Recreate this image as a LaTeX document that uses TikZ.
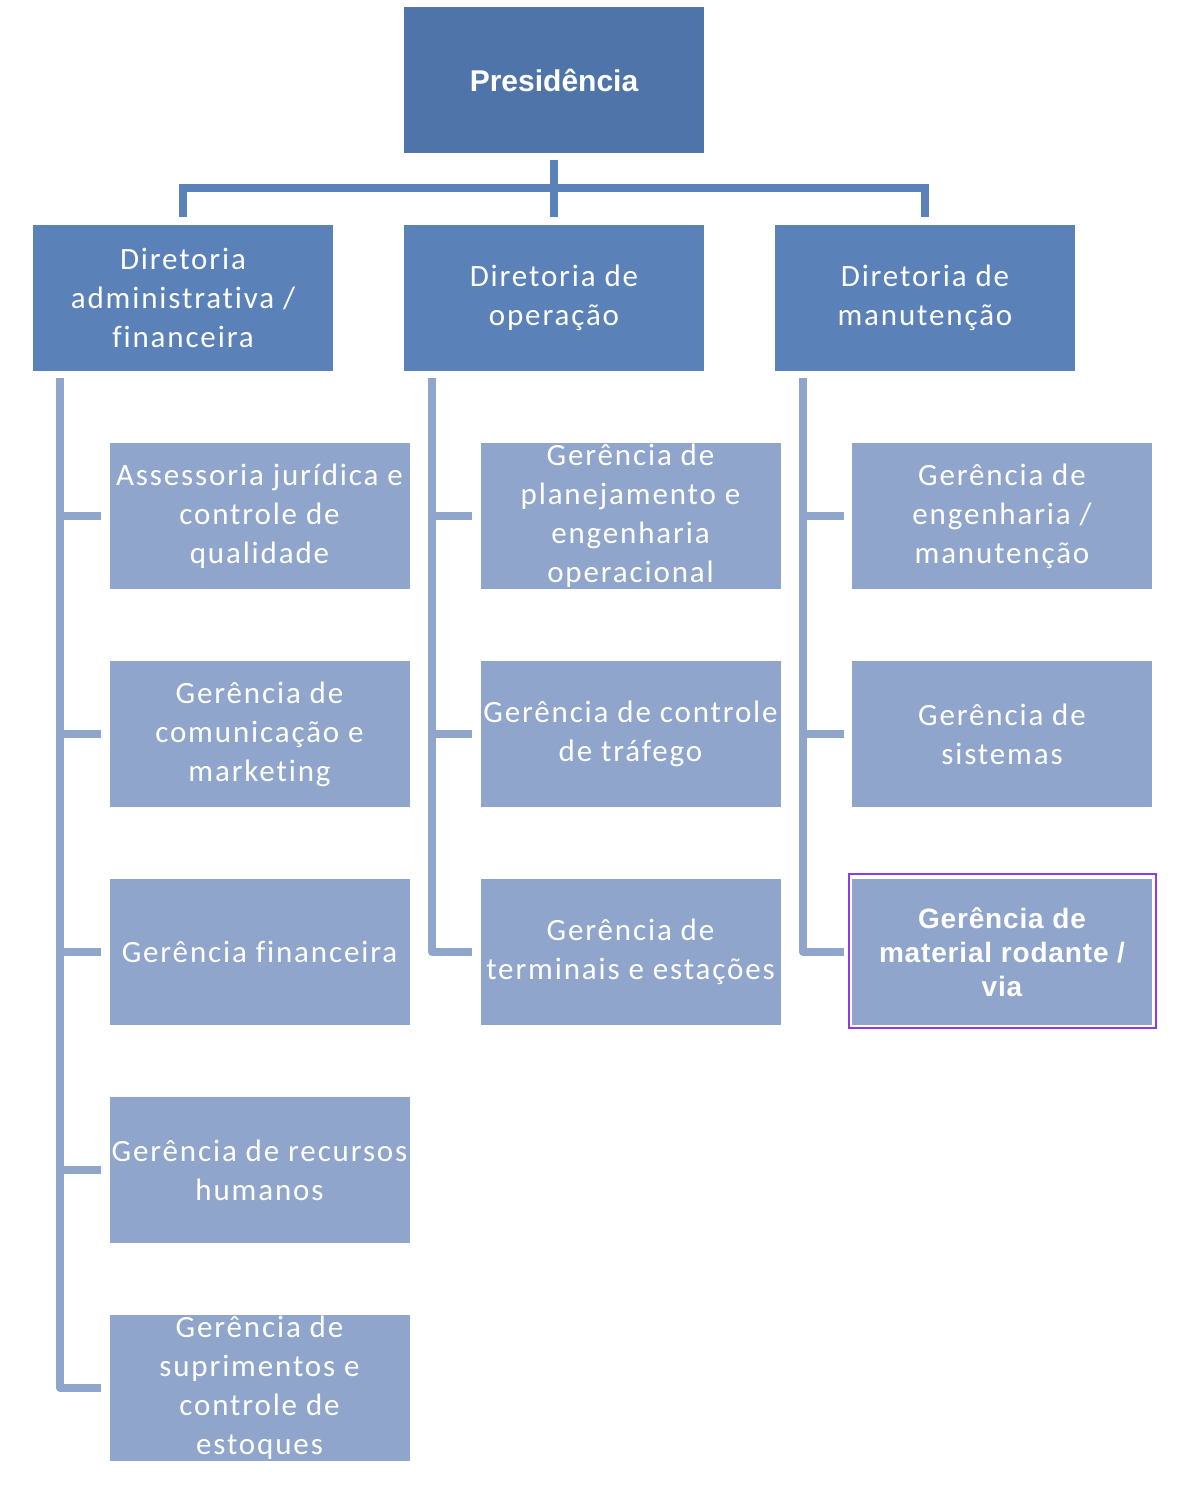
\documentclass[tikz,border=0pt]{standalone}
\usepackage{fontspec}
\setmainfont{Carlito}[Ligatures=NoCommon]
\newfontfamily\arialb{Liberation Sans}
\usetikzlibrary{calc}
\definecolor{presc}{HTML}{4F74A9}
\definecolor{dirc}{HTML}{5B81B9}
\definecolor{gerc}{HTML}{8FA5CB}
\definecolor{selc}{HTML}{8B3CF0}
\tikzset{
  box/.style={fill=#1, draw=none, minimum width=300pt, minimum height=146pt, inner sep=0pt, align=center, text=white},
  dirbox/.style={box=dirc, font=\fontsize{31}{39}\selectfont\addfontfeature{LetterSpace=6,Ligatures=NoCommon}},
  gerbox/.style={box=gerc, font=\fontsize{31}{39}\selectfont\addfontfeature{LetterSpace=6,Ligatures=NoCommon}},
  topline/.style={draw=dirc, line width=7.5pt},
  sideline/.style={draw=gerc, line width=7.5pt, line join=round},
}
\begin{document}
\begin{tikzpicture}[x=1pt,y=-1pt]
\useasboundingbox (0,0) rectangle (1182,1510);
% top
\node[box=presc, font=\arialb\bfseries\fontsize{30}{34}\selectfont, text depth=0pt] (pres) at (554,80) {Presidência};
\node[dirbox] (d1) at (183,298) {Diretoria\\administrativa /\\financeira};
\node[dirbox] (d2) at (554,298) {Diretoria de\\operação};
\node[dirbox] (d3) at (925,298) {Diretoria de\\manutenção};
% left column
\node[gerbox] (a1) at (259.5,516) {Assessoria jurídica e\\controle de\\qualidade};
\node[gerbox] (a2) at (259.5,734) {Gerência de\\comunicação e\\marketing};
\node[gerbox] (a3) at (259.5,952) {Gerência financeira};
\node[gerbox] (a4) at (259.5,1170) {Gerência de recursos\\humanos};
\node[gerbox] (a5) at (259.5,1388) {Gerência de\\suprimentos e\\controle de\\estoques};
% middle column
\node[gerbox] (b1) at (630.5,516) {Gerência de\\planejamento e\\engenharia\\operacional};
\node[gerbox] (b2) at (630.5,734) {Gerência de controle\\de tráfego};
\node[gerbox] (b3) at (630.5,952) {Gerência de\\terminais e estações};
% right column
\node[gerbox] (c1) at (1002,516) {Gerência de\\engenharia /\\manutenção};
\node[gerbox] (c2) at (1002,734) {Gerência de\\sistemas};
\node[box=gerc, font=\arialb\bfseries\fontsize{28}{34}\selectfont\addfontfeature{LetterSpace=3}] (c3) at (1002,952) {Gerência de\\material rodante /\\via};
\draw[selc, line width=2pt] ([shift={(-3pt,5pt)}]c3.north west) rectangle ([shift={(4pt,-3pt)}]c3.south east);
% top connectors
\coordinate (bus) at (554,188);
\draw[topline] ([yshift=-7pt]pres.south) -- ([yshift=8pt]d2.north);
\draw[topline] ([yshift=8pt]d1.north) |- (bus) -| ([yshift=8pt]d3.north);
% side connectors
\coordinate (sL) at (60,378);
\coordinate (sM) at (432,378);
\coordinate (sR) at (803,378);
\draw[sideline] (sL) |- ([xshift=-8pt]a5.west);
\foreach \n in {a1,a2,a3,a4} \draw[sideline] (sL |- \n.west) -- ([xshift=-8pt]\n.west);
\draw[sideline] (sM) |- ([xshift=-8pt]b3.west);
\foreach \n in {b1,b2} \draw[sideline] (sM |- \n.west) -- ([xshift=-8pt]\n.west);
\draw[sideline] (sR) |- ([xshift=-8pt]c3.west);
\foreach \n in {c1,c2} \draw[sideline] (sR |- \n.west) -- ([xshift=-8pt]\n.west);
\end{tikzpicture}
\end{document}
